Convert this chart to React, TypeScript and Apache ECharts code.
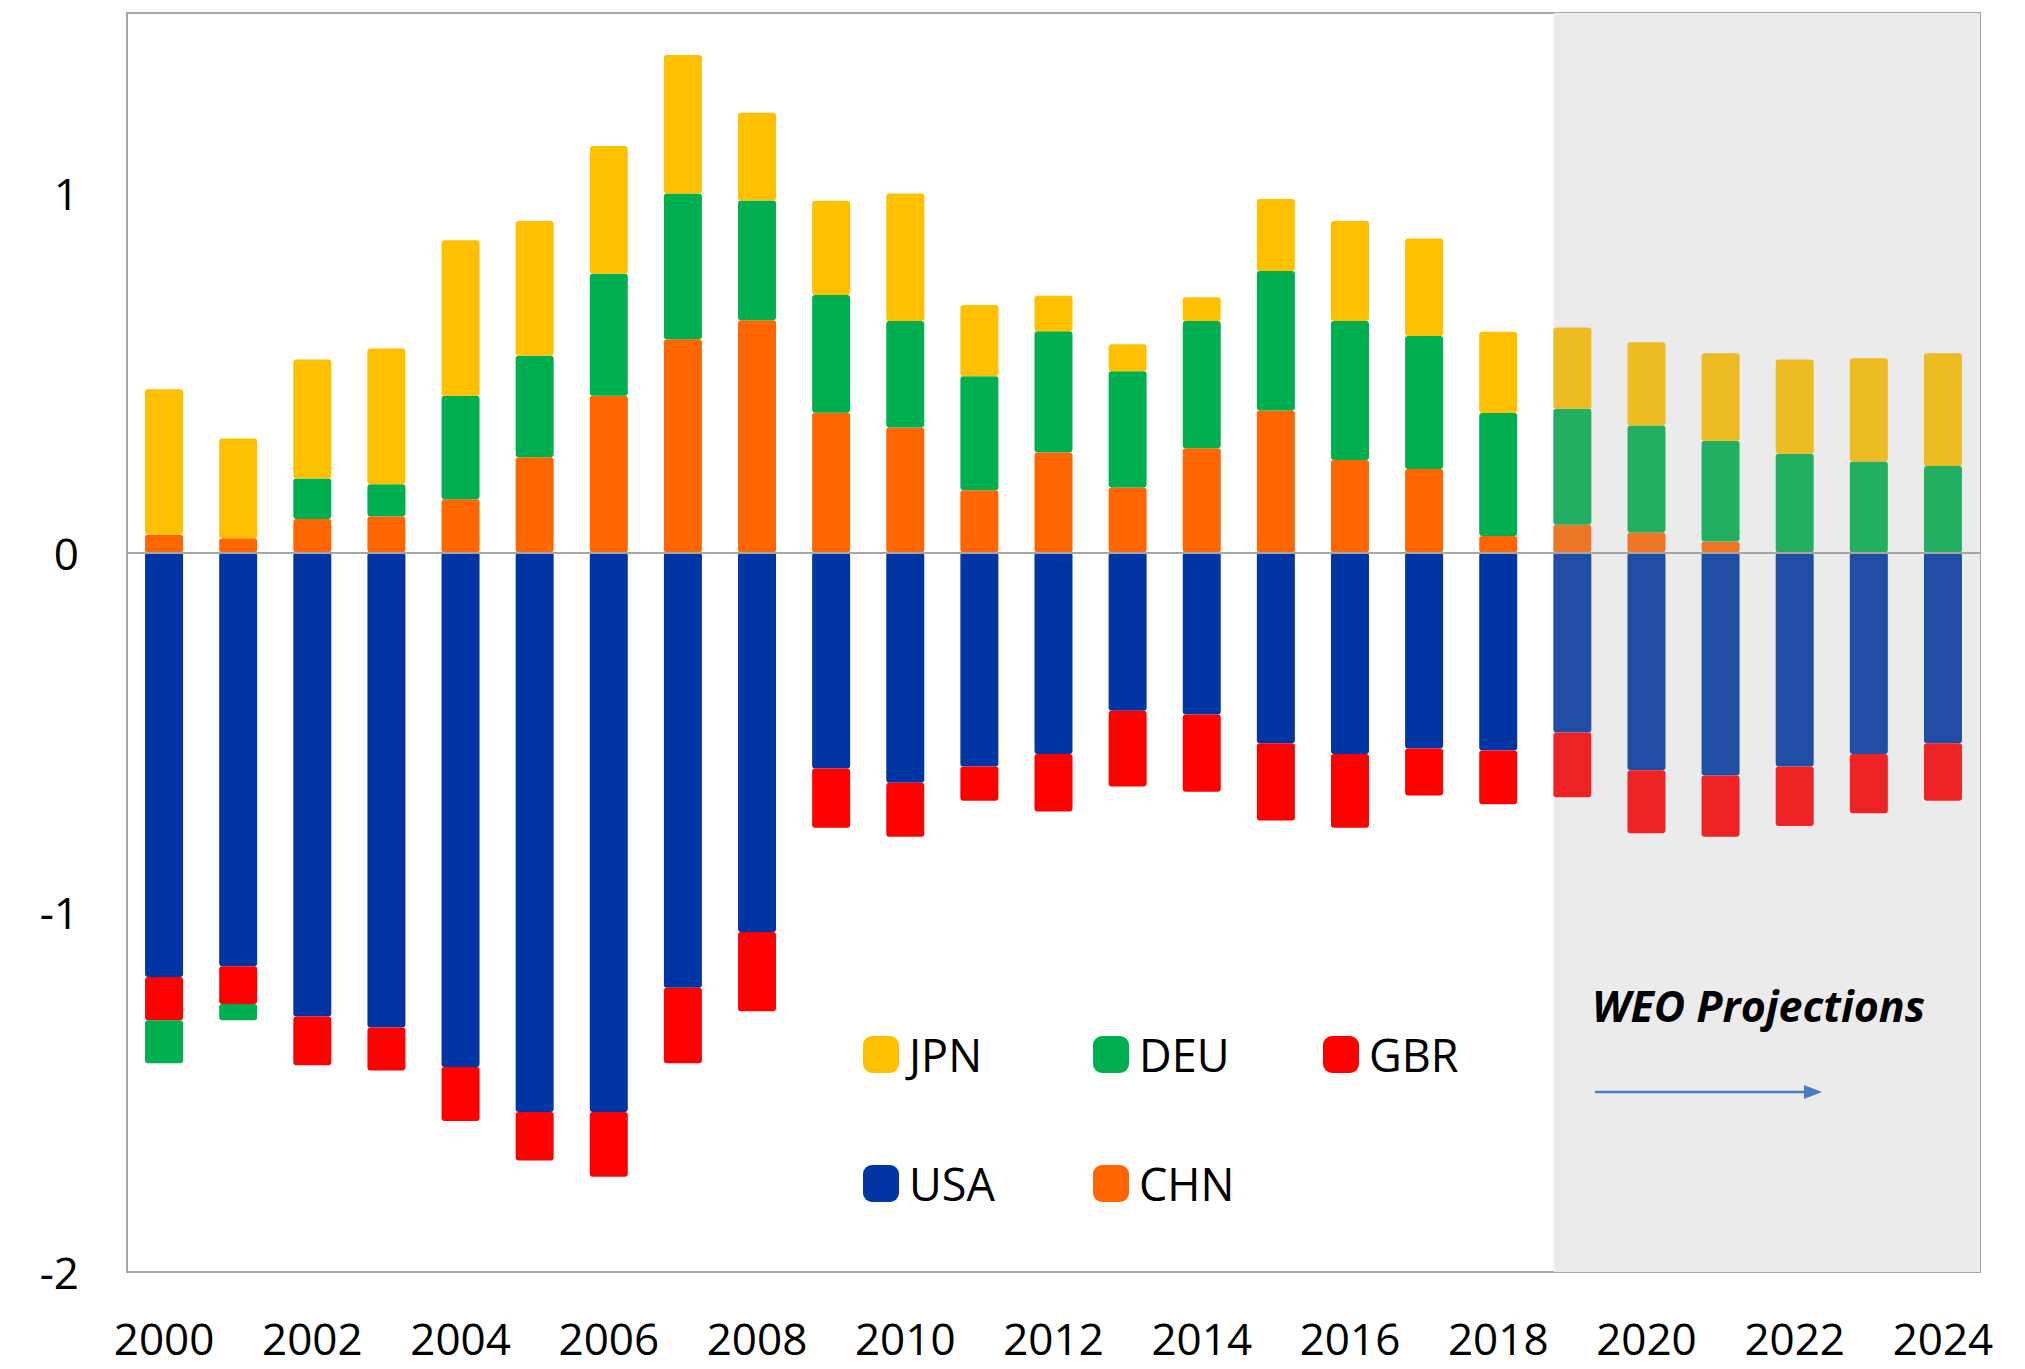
import React, { useEffect, useRef } from "react";
import * as echarts from "echarts";

const years = [
  "2000", "2001", "2002", "2003", "2004", "2005", "2006", "2007", "2008", "2009",
  "2010", "2011", "2012", "2013", "2014", "2015", "2016", "2017", "2018", "2019",
  "2020", "2021", "2022", "2023", "2024",
];

const usa = [
  -1.18, -1.15, -1.29, -1.32, -1.43, -1.555, -1.555, -1.21, -1.055, -0.6,
  -0.64, -0.595, -0.56, -0.44, -0.45, -0.53, -0.56, -0.545, -0.55, -0.5,
  -0.605, -0.62, -0.595, -0.56, -0.53,
];
const chn = [
  0.05, 0.04, 0.093, 0.1, 0.148, 0.265, 0.436, 0.593, 0.646, 0.389,
  0.348, 0.173, 0.278, 0.181, 0.29, 0.395, 0.257, 0.232, 0.046, 0.077,
  0.056, 0.031, 0, 0, 0,
];
const gbr = [
  -0.12, -0.105, -0.135, -0.12, -0.15, -0.135, -0.18, -0.21, -0.22, -0.165,
  -0.15, -0.095, -0.16, -0.21, -0.215, -0.215, -0.205, -0.13, -0.15, -0.18,
  -0.175, -0.17, -0.165, -0.165, -0.16,
];
const deu = [
  -0.12, -0.045, 0.113, 0.09, 0.288, 0.282, 0.339, 0.405, 0.333, 0.327,
  0.296, 0.317, 0.337, 0.323, 0.354, 0.388, 0.387, 0.37, 0.342, 0.323,
  0.297, 0.28, 0.275, 0.253, 0.241,
];
const jpn = [
  0.404, 0.277, 0.331, 0.377, 0.432, 0.375, 0.355, 0.385, 0.244, 0.262,
  0.354, 0.198, 0.099, 0.075, 0.066, 0.2, 0.278, 0.271, 0.226, 0.226,
  0.232, 0.243, 0.262, 0.287, 0.313,
];

const yTicks = [-2, -1, 0, 1];
const firstProjectionYear = "2019";
const projectionLabel = "WEO Projections";

const FONT = "'Open Sans', 'Noto Sans', sans-serif";

type SeriesDef = { name: string; values: number[]; color: string; projColor: string };

const seriesDefs: SeriesDef[] = [
  { name: "USA", values: usa, color: "#0035A3", projColor: "#214EA5" },
  { name: "CHN", values: chn, color: "#FF6600", projColor: "#EC7626" },
  { name: "GBR", values: gbr, color: "#FF0000", projColor: "#EE2326" },
  { name: "DEU", values: deu, color: "#00AF50", projColor: "#22AF62" },
  { name: "JPN", values: jpn, color: "#FFC000", projColor: "#EDBB22" },
];

const legendLayout: { name: string; left: number; top: number }[] = [
  { name: "JPN", left: 863, top: 1032 },
  { name: "DEU", left: 1093, top: 1032 },
  { name: "GBR", left: 1323, top: 1032 },
  { name: "USA", left: 863, top: 1161 },
  { name: "CHN", left: 1093, top: 1161 },
];

export default function App() {
  const ref = useRef<HTMLDivElement>(null);

  useEffect(() => {
    if (!ref.current) return;
    const chart = echarts.init(ref.current, undefined, { renderer: "svg" });
    const projIdx = years.indexOf(firstProjectionYear);

    const barSeries = seriesDefs.map((s) => ({
      name: s.name,
      type: "bar",
      stack: "total",
      barWidth: 38,
      itemStyle: { color: s.color, borderRadius: 3 },
      data: s.values.map((v, i) => ({
        value: v,
        itemStyle: { color: i >= projIdx ? s.projColor : s.color },
      })),
      z: 2,
    }));

    const option: any = {
      animation: false,
      backgroundColor: "#ffffff",
      grid: {
        left: 127,
        right: 45,
        top: 13,
        bottom: 97,
        show: true,
        borderColor: "#A6A6A6",
        borderWidth: 2,
        backgroundColor: "transparent",
      },
      legend: legendLayout.map((l) => ({
        data: [l.name],
        left: l.left,
        top: l.top,
        padding: 0,
        itemWidth: 36,
        itemHeight: 37,
        icon: "roundRect",
        selectedMode: false,
        textStyle: {
          fontSize: 45,
          color: "#000000",
          fontFamily: FONT,
          padding: [0, 0, 0, 5],
        },
      })),
      xAxis: [
        {
          type: "category",
          data: years,
          position: "bottom",
          axisLine: { onZero: false, show: false },
          axisTick: { show: false },
          axisLabel: {
            interval: 1,
            fontSize: 44,
            color: "#000000",
            fontFamily: FONT,
            margin: 44,
          },
          splitLine: { show: false },
        },
        {
          type: "value",
          min: -0.5,
          max: years.length - 0.5,
          show: false,
        },
      ],
      yAxis: {
        type: "value",
        min: yTicks[0],
        max: 1.5,
        interval: 1,
        axisLine: { show: false },
        axisTick: { show: false },
        splitLine: { show: false },
        axisLabel: {
          fontSize: 44,
          color: "#000000",
          fontFamily: FONT,
          margin: 48,
          formatter: (v: number) => (yTicks.includes(v) ? String(v) : ""),
        },
      },
      series: [
        {
          name: "projectionShade",
          type: "line",
          xAxisIndex: 1,
          data: [],
          silent: true,
          z: 1,
          markArea: {
            silent: true,
            itemStyle: { color: "#EBEBEB" },
            data: [[{ xAxis: projIdx - 0.25 }, { xAxis: years.length - 0.5 }]],
          },
        },
        ...barSeries,
        {
          name: "zeroLine",
          type: "line",
          data: [],
          silent: true,
          markLine: {
            silent: true,
            symbol: "none",
            label: { show: false },
            lineStyle: { color: "#A6A6A6", width: 2, type: "solid" },
            data: [{ yAxis: 0 }],
          },
        },
      ],
      graphic: [
        {
          type: "text",
          left: 1592,
          top: 984,
          style: {
            text: projectionLabel,
            fontSize: 43,
            fontWeight: "bold",
            fontStyle: "italic",
            fontFamily: FONT,
            fill: "#000000",
          },
          z: 10,
        },
        {
          type: "line",
          shape: { x1: 1595, y1: 1092, x2: 1808, y2: 1092 },
          style: { stroke: "#4A7EC2", lineWidth: 2.5 },
          z: 10,
        },
        {
          type: "polygon",
          shape: { points: [[1804, 1085], [1822, 1092], [1804, 1099]] },
          style: { fill: "#4A7EC2" },
          z: 10,
        },
      ],
    };

    chart.setOption(option);
    return () => chart.dispose();
  }, []);

  return (
    <div
      ref={ref}
      style={{ position: "fixed", left: 0, top: 0, width: 2025, height: 1369, background: "#fff" }}
    />
  );
}
